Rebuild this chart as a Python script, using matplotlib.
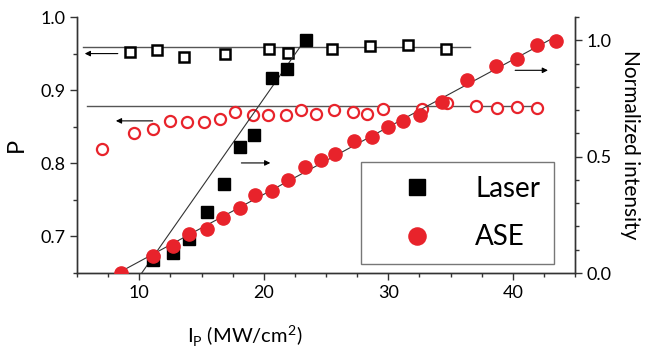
import numpy as np
import matplotlib.pyplot as plt
from matplotlib.ticker import MultipleLocator

plt.rcParams['font.family'] = ['Lato', 'DejaVu Sans']

# P (left axis), open markers
laser_p_x = [9.26, 11.46, 13.58, 16.9, 20.39, 21.92, 25.49, 28.57, 31.55, 34.6]
laser_p = [0.9516, 0.9548, 0.9456, 0.9493, 0.9562, 0.9503, 0.956, 0.960, 0.9616, 0.956]

ase_p_x = [6.99, 9.59, 11.09, 12.43, 13.87, 15.22, 16.5, 17.71, 19.1, 20.34, 21.79,
           23.02, 24.23, 25.62, 27.15, 28.31, 29.56, 32.73, 34.74, 37.08, 38.77,
           40.37, 41.93]
ase_p = [0.820, 0.8415, 0.8466, 0.858, 0.8558, 0.8562, 0.8612, 0.8695, 0.8658,
         0.8658, 0.8662, 0.8726, 0.868, 0.8726, 0.8703, 0.868, 0.8736, 0.8736,
         0.8826, 0.878, 0.8758, 0.8771, 0.8758]

# normalized intensity (right axis), filled markers
laser_i_x = [11.14, 12.70, 13.99, 15.43, 16.83, 18.11, 19.24, 20.66, 21.87, 23.42]
laser_i = [0.055, 0.0875, 0.145, 0.264, 0.382, 0.540, 0.591, 0.838, 0.878, 1.0]

ase_i_x = [8.52, 11.14, 12.70, 13.99, 15.43, 16.72, 18.11, 19.32, 20.66, 21.92,
           23.34, 24.61, 25.76, 27.23, 28.71, 29.96, 31.2, 32.54, 34.34, 36.29,
           38.63, 40.37, 41.93, 43.46]
ase_i = [0.0, 0.073, 0.116, 0.166, 0.188, 0.235, 0.28, 0.334, 0.353, 0.40,
         0.457, 0.486, 0.51, 0.566, 0.586, 0.626, 0.655, 0.681, 0.734, 0.828,
         0.89, 0.918, 0.978, 0.997]

# guide lines
laser_p_line = ([5.5, 36.6], [0.9593, 0.9593])
ase_p_line = ([5.8, 41.7], [0.878, 0.878])
laser_fit = ([10.2, 23.55], [0.0, 1.02])
ase_fit = ([8.3, 43.6], [0.0, 1.02])

red = '#e8232b'

fig = plt.figure(figsize=(6.46, 3.56), dpi=100)
ax = fig.add_axes([0.1192, 0.2331, 0.7709, 0.7191])
ax2 = ax.twinx()

ax.plot(*laser_p_line, color='#555555', lw=1)
ax.plot(*ase_p_line, color='#555555', lw=1)
ax.plot(laser_p_x, laser_p, 's', ms=7.5, mfc='white', mec='black', mew=1.8, zorder=3)
ax.plot(ase_p_x, ase_p, 'o', ms=8, mfc='white', mec=red, mew=1.6, zorder=3)

ax2.plot(*laser_fit, color='#333333', lw=0.8)
ax2.plot(*ase_fit, color='#333333', lw=0.8)
ax2.plot(laser_i_x, laser_i, 's', ms=8.5, color='black', label='Laser', zorder=3)
ax2.plot(ase_i_x, ase_i, 'o', ms=9.5, color=red, label='ASE', zorder=4)

# arrows
arr = dict(arrowstyle='-|>', color='black', lw=0.8, mutation_scale=8)
ax.annotate('', xy=(5.4, 0.950), xytext=(8.5, 0.950), arrowprops=arr)
ax.annotate('', xy=(7.9, 0.858), xytext=(11.3, 0.858), arrowprops=arr)
ax2.annotate('', xy=(20.75, 0.473), xytext=(17.98, 0.473), arrowprops=arr)
ax2.annotate('', xy=(43.05, 0.871), xytext=(39.97, 0.871), arrowprops=arr)

ax.set_xlim(5, 45)
ax.set_ylim(0.65, 1.0)
ax2.set_ylim(0, 1.1)

ax.xaxis.set_major_locator(MultipleLocator(10))
ax.xaxis.set_minor_locator(MultipleLocator(2.5))
ax.yaxis.set_major_locator(MultipleLocator(0.1))
ax.yaxis.set_minor_locator(MultipleLocator(0.05))
ax2.yaxis.set_major_locator(MultipleLocator(0.5))
ax2.yaxis.set_minor_locator(MultipleLocator(0.1))

for a in (ax, ax2):
    a.spines['top'].set_visible(False)
    for s in a.spines.values():
        s.set_color('#333333')
        s.set_linewidth(1)
    a.tick_params(which='major', direction='out', length=5, width=1, labelsize=13,
                  color='#333333')
    a.tick_params(which='minor', direction='out', length=3, width=1, color='#333333')

ax.yaxis.set_major_formatter(plt.FormatStrFormatter('%.1f'))
ax2.yaxis.set_major_formatter(plt.FormatStrFormatter('%.1f'))

ax.set_ylabel('P', fontsize=17)
ax.yaxis.set_label_coords(-0.1, 0.5)
ax.set_xlabel(r'I$_\mathregular{P}$ (MW/cm$^\mathregular{2}$)', fontsize=14.5)
ax.xaxis.set_label_coords(0.337, -0.2)
ax2.set_ylabel('Normalized intensity', fontsize=15, rotation=270, va='bottom')
ax2.yaxis.set_label_coords(1.09, 0.5)

leg = ax2.legend(loc='lower right', bbox_to_anchor=(0.958, 0.034), fontsize=20,
                 frameon=True, fancybox=False, edgecolor='#555555',
                 borderpad=0.5, labelspacing=0.8, handletextpad=0.6,
                 handlelength=3.0, borderaxespad=0, markerscale=1.3)
leg.get_frame().set_linewidth(1)

fig.savefig('out.png', dpi=100)
